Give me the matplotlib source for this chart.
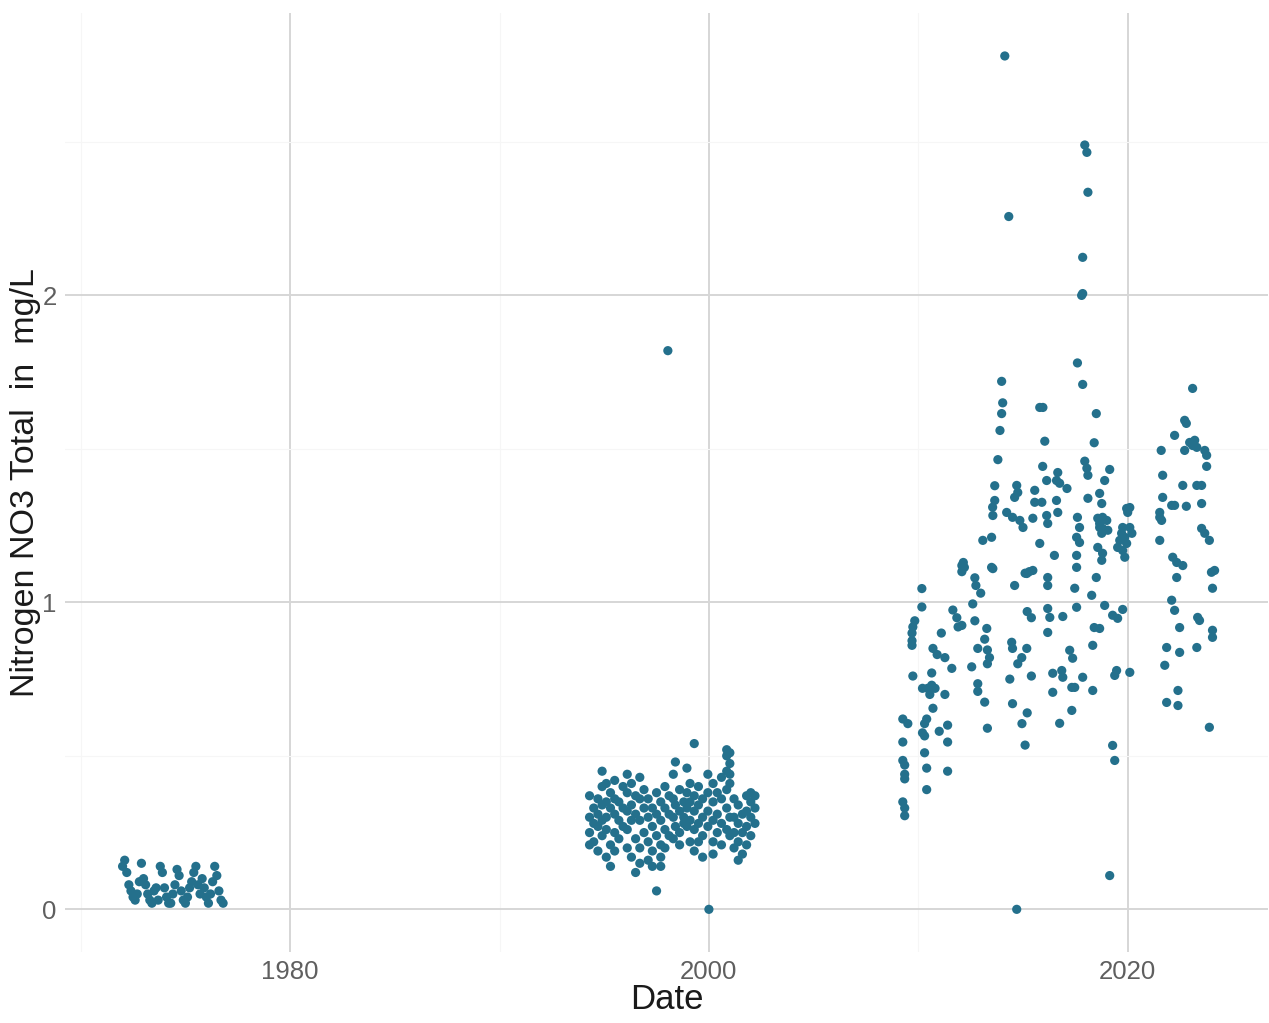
import matplotlib
matplotlib.use("Agg")
import matplotlib.pyplot as plt
from matplotlib.ticker import FixedLocator

plt.rcParams['font.family'] = ['Liberation Sans', 'DejaVu Sans']

# ---- data: (decimal year, NO3 mg/L) ----
period_1970s = [
    (1972.0, 0.14), (1972.1, 0.16), (1972.2, 0.12), (1972.3, 0.08), (1972.4, 0.06),
    (1972.5, 0.04), (1972.6, 0.03), (1972.7, 0.05), (1972.8, 0.09), (1972.9, 0.15),
    (1973.0, 0.10), (1973.1, 0.08), (1973.2, 0.05), (1973.3, 0.03), (1973.4, 0.02),
    (1973.5, 0.06), (1973.6, 0.07), (1973.7, 0.03), (1973.8, 0.14), (1973.9, 0.12),
    (1974.0, 0.07), (1974.1, 0.04), (1974.2, 0.02), (1974.3, 0.02), (1974.4, 0.05),
    (1974.5, 0.08), (1974.6, 0.13), (1974.7, 0.11), (1974.8, 0.06), (1974.9, 0.03),
    (1975.0, 0.02), (1975.1, 0.04), (1975.2, 0.07), (1975.3, 0.09), (1975.4, 0.12),
    (1975.5, 0.14), (1975.6, 0.08), (1975.7, 0.05), (1975.8, 0.10), (1975.9, 0.07),
    (1976.0, 0.04), (1976.1, 0.02), (1976.2, 0.05), (1976.3, 0.09), (1976.4, 0.14),
    (1976.5, 0.11), (1976.6, 0.06), (1976.7, 0.03), (1976.8, 0.02),
]

period_1990s = [
    (1994.3, 0.37), (1994.3, 0.30), (1994.3, 0.25), (1994.3, 0.21),
    (1994.5, 0.33), (1994.5, 0.28), (1994.5, 0.22),
    (1994.7, 0.36), (1994.7, 0.31), (1994.7, 0.27), (1994.7, 0.19),
    (1994.9, 0.45), (1994.9, 0.40), (1994.9, 0.34), (1994.9, 0.29), (1994.9, 0.24),
    (1995.1, 0.41), (1995.1, 0.35), (1995.1, 0.30), (1995.1, 0.26), (1995.1, 0.17),
    (1995.3, 0.38), (1995.3, 0.33), (1995.3, 0.21), (1995.3, 0.14),
    (1995.5, 0.42), (1995.5, 0.36), (1995.5, 0.31), (1995.5, 0.25), (1995.5, 0.19),
    (1995.7, 0.35), (1995.7, 0.29), (1995.7, 0.23),
    (1995.9, 0.40), (1995.9, 0.33), (1995.9, 0.27),
    (1996.1, 0.44), (1996.1, 0.38), (1996.1, 0.32), (1996.1, 0.26), (1996.1, 0.20),
    (1996.3, 0.41), (1996.3, 0.34), (1996.3, 0.29), (1996.3, 0.17),
    (1996.5, 0.37), (1996.5, 0.31), (1996.5, 0.23), (1996.5, 0.12),
    (1996.7, 0.43), (1996.7, 0.36), (1996.7, 0.29), (1996.7, 0.20), (1996.7, 0.15),
    (1996.9, 0.39), (1996.9, 0.33), (1996.9, 0.25),
    (1997.1, 0.36), (1997.1, 0.30), (1997.1, 0.22), (1997.1, 0.16),
    (1997.3, 0.33), (1997.3, 0.27), (1997.3, 0.19), (1997.3, 0.14),
    (1997.5, 0.38), (1997.5, 0.31), (1997.5, 0.24), (1997.5, 0.06),
    (1997.7, 0.35), (1997.7, 0.29), (1997.7, 0.21), (1997.7, 0.14), (1997.7, 0.17),
    (1997.9, 0.40), (1997.9, 0.33), (1997.9, 0.26), (1997.9, 0.20),
    (1998.1, 0.37), (1998.1, 0.31), (1998.1, 0.24),
    (1998.3, 0.44), (1998.3, 0.36), (1998.3, 0.30), (1998.3, 0.23),
    (1998.4, 0.48), (1998.4, 0.34), (1998.4, 0.27),
    (1998.6, 0.39), (1998.6, 0.32), (1998.6, 0.25), (1998.6, 0.21),
    (1998.8, 0.35), (1998.8, 0.30), (1998.8, 0.28),
    (1998.95, 0.46), (1998.95, 0.38), (1998.95, 0.33), (1998.95, 0.27),
    (1999.1, 0.41), (1999.1, 0.35), (1999.1, 0.29), (1999.1, 0.22),
    (1999.3, 0.54), (1999.3, 0.37), (1999.3, 0.32), (1999.3, 0.26), (1999.3, 0.19),
    (1999.5, 0.40), (1999.5, 0.34), (1999.5, 0.28), (1999.5, 0.22),
    (1999.7, 0.36), (1999.7, 0.30), (1999.7, 0.24), (1999.7, 0.17),
    (1999.95, 0.44), (1999.95, 0.38), (1999.95, 0.32), (1999.95, 0.27),
    (2000.2, 0.41), (2000.2, 0.35), (2000.2, 0.29), (2000.2, 0.22), (2000.2, 0.18),
    (2000.4, 0.38), (2000.4, 0.31), (2000.4, 0.25),
    (2000.6, 0.43), (2000.6, 0.36), (2000.6, 0.28), (2000.6, 0.21),
    (2000.85, 0.52), (2000.85, 0.50), (2000.85, 0.45), (2000.85, 0.39), (2000.85, 0.33), (2000.85, 0.26),
    (2001.0, 0.51), (2001.0, 0.475), (2001.0, 0.44), (2001.0, 0.41), (2001.0, 0.30), (2001.0, 0.24),
    (2001.2, 0.36), (2001.2, 0.30), (2001.2, 0.25), (2001.2, 0.20),
    (2001.4, 0.34), (2001.4, 0.28), (2001.4, 0.22), (2001.4, 0.16),
    (2001.6, 0.31), (2001.6, 0.25), (2001.6, 0.18),
    (2001.8, 0.37), (2001.8, 0.32), (2001.8, 0.27), (2001.8, 0.21),
    (2002.0, 0.38), (2002.0, 0.35), (2002.0, 0.30), (2002.0, 0.24),
    (2002.2, 0.37), (2002.2, 0.33), (2002.2, 0.28),
    (1998.04, 1.82), (2000.0, 0.0),
]

period_2009_2016 = [
    (2009.26, 0.62), (2009.5, 0.605), (2009.26, 0.545), (2009.26, 0.485), (2009.35, 0.47),
    (2009.35, 0.44), (2009.35, 0.425), (2009.26, 0.35), (2009.35, 0.33), (2009.35, 0.305),
    (2009.83, 0.94), (2009.74, 0.92), (2009.7, 0.90), (2009.7, 0.875), (2009.7, 0.86), (2009.74, 0.76),
    (2010.17, 1.045), (2010.17, 0.985), (2010.7, 0.85), (2010.9, 0.83), (2010.64, 0.77),
    (2010.2, 0.72), (2010.45, 0.72), (2010.64, 0.73), (2010.8, 0.72), (2010.55, 0.70),
    (2010.7, 0.655), (2010.3, 0.605), (2010.4, 0.62), (2010.2, 0.575), (2010.3, 0.565),
    (2010.3, 0.51), (2010.4, 0.46), (2010.4, 0.39),
    (2011.65, 0.975), (2011.84, 0.95), (2011.9, 0.92), (2011.1, 0.90), (2011.27, 0.82),
    (2011.6, 0.785), (2011.27, 0.70), (2011.0, 0.58), (2011.4, 0.60), (2011.4, 0.545), (2011.4, 0.45),
    (2012.08, 1.12), (2012.08, 1.10), (2012.7, 1.08), (2012.75, 1.055), (2012.98, 1.03),
    (2012.6, 0.995), (2012.08, 0.925), (2012.7, 0.94), (2012.84, 0.85), (2012.55, 0.79),
    (2012.84, 0.735), (2012.84, 0.71), (2012.15, 1.13), (2012.2, 1.114),
    (2013.56, 1.11), (2013.27, 0.915), (2013.17, 0.88), (2013.3, 0.845), (2013.4, 0.82),
    (2013.3, 0.80), (2013.17, 0.675), (2013.3, 0.59), (2013.98, 1.72), (2013.9, 1.56),
    (2013.8, 1.465), (2013.65, 1.38), (2013.65, 1.332), (2013.55, 1.31), (2013.56, 1.283),
    (2013.08, 1.202), (2013.5, 1.212), (2013.5, 1.114),
    (2014.13, 2.78), (2014.32, 2.257), (2014.03, 1.65), (2013.98, 1.615), (2014.6, 1.055),
    (2014.46, 0.87), (2014.5, 0.85), (2014.75, 0.80), (2014.37, 0.75), (2014.5, 0.67),
    (2014.95, 0.605), (2014.94, 0.82), (2014.7, 1.381), (2014.75, 1.358), (2014.6, 1.342),
    (2014.22, 1.293), (2014.5, 1.277), (2014.85, 1.267), (2014.7, 0.0),
    (2015.3, 1.10), (2015.1, 1.095), (2015.2, 0.97), (2015.4, 0.95), (2015.18, 0.85),
    (2015.4, 0.76), (2015.2, 0.64), (2015.1, 0.535), (2015.0, 1.244), (2015.47, 1.274),
    (2015.56, 1.365), (2015.56, 1.326), (2015.9, 1.326), (2015.8, 1.635), (2015.95, 1.635),
    (2015.8, 1.192), (2015.18, 1.094), (2015.47, 1.104), (2015.94, 1.443),
    (2016.04, 1.525), (2016.13, 1.397), (2016.6, 1.397), (2016.66, 1.423), (2016.75, 1.388),
    (2016.6, 1.332), (2016.66, 1.293), (2016.13, 1.283), (2016.18, 1.257), (2016.5, 1.153),
    (2016.18, 1.081), (2016.18, 1.055), (2016.18, 0.98), (2016.28, 0.951), (2016.9, 0.954),
    (2016.18, 0.902), (2016.42, 0.769), (2016.85, 0.778), (2016.9, 0.756), (2016.42, 0.707),
    (2016.75, 0.606),
]

period_2017_2024 = [
    (2017.1, 1.371), (2017.6, 1.78), (2017.85, 1.71), (2017.95, 2.49), (2018.05, 2.466),
    (2018.1, 2.336), (2017.85, 2.124), (2017.8, 2.0), (2017.85, 2.006), (2017.95, 1.46),
    (2018.05, 1.437), (2018.1, 1.414), (2017.6, 1.277), (2017.7, 1.244), (2017.56, 1.212),
    (2017.7, 1.195), (2017.56, 1.153), (2017.56, 1.114), (2017.47, 1.046), (2017.56, 0.984),
    (2017.23, 0.844), (2017.37, 0.818), (2017.33, 0.723), (2017.47, 0.723), (2017.85, 0.756),
    (2017.33, 0.648),
    (2018.5, 1.615), (2018.4, 1.52), (2018.1, 1.339), (2018.66, 1.355), (2018.76, 1.322),
    (2018.57, 1.274), (2018.66, 1.244), (2018.76, 1.225), (2018.57, 1.179), (2018.8, 1.16),
    (2018.76, 1.137), (2018.5, 1.081), (2018.28, 1.023), (2018.9, 0.99), (2018.4, 0.918),
    (2018.66, 0.915), (2018.33, 0.86), (2018.33, 0.713), (2018.9, 1.397), (2018.8, 1.277),
    (2018.66, 1.257), (2018.8, 1.241),
    (2019.14, 1.433), (2019.0, 1.267), (2019.05, 1.235), (2019.76, 1.244), (2019.71, 1.225),
    (2019.86, 1.212), (2019.62, 1.202), (2019.95, 1.192), (2019.52, 1.179), (2019.76, 1.169),
    (2019.86, 1.147), (2019.28, 0.958), (2019.52, 0.948), (2019.76, 0.977), (2019.47, 0.778),
    (2019.38, 0.762), (2019.28, 0.534), (2019.38, 0.485), (2019.14, 0.11), (2019.95, 1.306),
    (2020.1, 1.309), (2020.0, 1.293), (2020.1, 1.244), (2020.2, 1.225), (2020.1, 0.772),
    (2021.6, 1.495), (2021.67, 1.414), (2021.67, 1.342), (2021.53, 1.293), (2021.53, 1.277),
    (2021.62, 1.267), (2021.53, 1.202), (2021.86, 0.853), (2021.77, 0.795), (2021.86, 0.674),
    (2022.24, 1.544), (2022.72, 1.593), (2022.8, 1.583), (2022.72, 1.495), (2022.63, 1.381),
    (2022.1, 1.316), (2022.24, 1.316), (2022.8, 1.313), (2022.15, 1.147), (2022.34, 1.13),
    (2022.63, 1.12), (2022.34, 1.081), (2022.1, 1.007), (2022.24, 0.974), (2022.48, 0.918),
    (2022.48, 0.837), (2022.4, 0.713), (2022.4, 0.664),
    (2023.1, 1.697), (2022.96, 1.521), (2023.2, 1.528), (2023.1, 1.511), (2023.3, 1.505),
    (2023.68, 1.495), (2023.77, 1.479), (2023.77, 1.443), (2023.3, 1.381), (2023.53, 1.381),
    (2023.53, 1.322), (2023.53, 1.241), (2023.68, 1.225), (2023.9, 1.202), (2023.34, 0.951),
    (2023.43, 0.941), (2023.3, 0.853), (2023.9, 0.593),
    (2024.0, 1.098), (2024.15, 1.104), (2024.05, 1.046), (2024.05, 0.909), (2024.05, 0.886),
]

x_ticks = [1980, 2000, 2020]
x_tick_labels = ["1980", "2000", "2020"]
y_ticks = [0, 1, 2]
y_tick_labels = ["0", "1", "2"]

# ---- figure ----
fig = plt.figure(figsize=(12.69, 10.23), dpi=100)
ax = fig.add_axes([65 / 1269, 71 / 1023, 1203 / 1269, 939 / 1023])

point_color = "#24708c"
for period in (period_1970s, period_1990s, period_2009_2016, period_2017_2024):
    xs = [p[0] for p in period]
    ys = [p[1] for p in period]
    ax.scatter(xs, ys, s=44, color=point_color, edgecolors="none", zorder=3)

ax.set_xlim(1969.25, 2026.7)
ax.set_ylim(-0.139, 2.92)

ax.xaxis.set_major_locator(FixedLocator(x_ticks))
ax.set_xticklabels(x_tick_labels)
ax.yaxis.set_major_locator(FixedLocator(y_ticks))
ax.set_yticklabels(y_tick_labels)
ax.xaxis.set_minor_locator(FixedLocator([1970, 1990, 2010]))
ax.yaxis.set_minor_locator(FixedLocator([0.5, 1.5, 2.5]))

ax.grid(which="major", color="#d6d6d6", linewidth=1.4, zorder=0)
ax.grid(which="minor", color="#f6f6f6", linewidth=0.8, zorder=0)
ax.set_axisbelow(True)

for sp in ax.spines.values():
    sp.set_visible(False)

ax.tick_params(which="both", length=0)
ax.tick_params(axis="x", pad=6, labelsize=18.5, labelcolor="#5f5f5f")
ax.tick_params(axis="y", pad=6, labelsize=18.5, labelcolor="#5f5f5f")

ax.set_xlabel("Date", fontsize=25, color="#1a1a1a")
ax.xaxis.set_label_coords(0.5, -0.033)
ax.set_ylabel("Nitrogen NO3 Total  in  mg/L", fontsize=24.5, color="#1a1a1a")
ax.yaxis.label.set_va("center")
ax.yaxis.set_label_coords(-0.033, 0.5)

fig.savefig("out.png", dpi=100, facecolor="white")
